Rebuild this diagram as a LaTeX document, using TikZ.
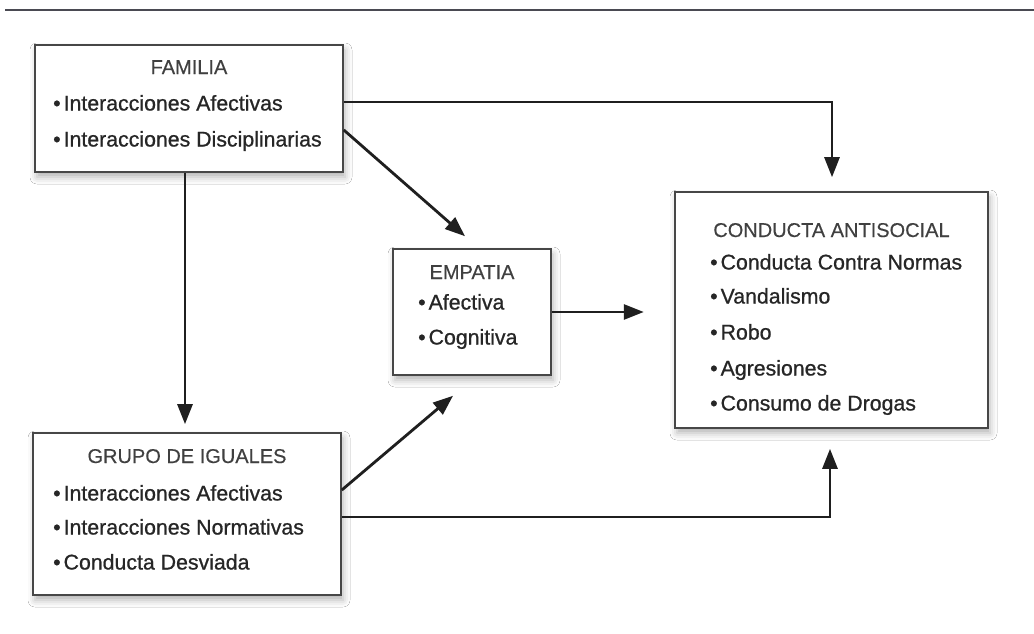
\documentclass[tikz,border=0pt]{standalone}
\usepackage{fontspec}
\setmainfont{Liberation Sans}
\newfontfamily\itmfont{Liberation Sans}[FakeBold=0.8]
\newfontfamily\ttlfont{Liberation Sans}[FakeBold=0.3]
\usetikzlibrary{arrows.meta,calc,shadows.blur}
\definecolor{rule}{HTML}{4A4A52}
\begin{document}
\begin{tikzpicture}[x=1pt,y=-1pt,
  box/.style={draw=black!72, line width=1.6pt, fill=white, inner sep=0pt,
    blur shadow={shadow xshift=2pt, shadow yshift=-5pt, shadow blur radius=7pt, shadow opacity=30}},
  ttl/.style={inner sep=0pt, text height=14pt, text depth=0pt, font=\ttlfont\fontsize{20}{22}\selectfont, text=black!75},
  itm/.style={inner sep=0pt, anchor=west, text height=15pt, text depth=0pt, font=\itmfont\fontsize{21.3}{24}\selectfont, text=black!85},
  arr/.style={draw=black!88, line width=2.8pt, -{Triangle[length=20pt,width=15pt]}}
]
\useasboundingbox (0,0) rectangle (1034,633);
\fill[white] (0,0) rectangle (1034,633);
\draw[line width=2.6pt, draw=rule] (5,10) -- (1034,10);

% boxes
\node[box, minimum width=308pt, minimum height=127pt] (fam) at (189,108.5) {};
\node[box, minimum width=308pt, minimum height=162pt] (grp) at (187,514) {};
\node[box, minimum width=158pt, minimum height=126pt] (emp) at (472,312) {};
\node[box, minimum width=313pt, minimum height=236pt] (anti) at (831.5,310) {};

% FAMILIA
\node[ttl] (famt) at (189,67) {FAMILIA};
\node[itm] (fam1) at (53,103) {•\kern3pt Interacciones Afectivas};
\node[itm] (fam2) at (53,139) {•\kern3pt Interacciones Disciplinarias};

% GRUPO
\node[ttl] (grpt) at (187,456) {GRUPO DE IGUALES};
\node[itm] (grp1) at (53,493) {•\kern3pt Interacciones Afectivas};
\node[itm] (grp2) at (53,527) {•\kern3pt Interacciones Normativas};
\node[itm] (grp3) at (53,562) {•\kern3pt Conducta Desviada};

% EMPATIA
\node[ttl] (empt) at (472,272) {EMPATIA};
\node[itm] (emp1) at (418,302) {•\kern3pt Afectiva};
\node[itm] (emp2) at (418,337) {•\kern3pt Cognitiva};

% CONDUCTA ANTISOCIAL
\node[ttl] (antit) at (831.5,230) {CONDUCTA ANTISOCIAL};
\node[itm] (anti1) at (710,262) {•\kern3pt Conducta Contra Normas};
\node[itm] (anti2) at (710,296) {•\kern3pt Vandalismo};
\node[itm] (anti3) at (710,332) {•\kern3pt Robo};
\node[itm] (anti4) at (710,368) {•\kern3pt Agresiones};
\node[itm] (anti5) at (710,403) {•\kern3pt Consumo de Drogas};

% free ends
\coordinate (t1) at ($(anti.north)+(0.5,-14)$);
\coordinate (t2) at ($(emp.north)+(-7,-12)$);
\coordinate (t3) at ($(grp.north)+(-2,-8)$);
\coordinate (t4) at ($(emp.south)+(-19,20)$);
\coordinate (t5) at ($(anti.south)+(-1.5,20)$);
\coordinate (t6) at ($(emp.east)+(92,0)$);

% connectors
\draw[arr] ($(fam.east)+(0,-6.5)$) -| (t1);
\draw[arr] ($(fam.east)+(0,21.5)$) -- (t2);
\draw[arr] ($(fam.south)+(-4,0)$) -- (t3);
\draw[arr] ($(grp.east)+(0,-24)$) -- (t4);
\draw[arr] ($(grp.east)+(0,3)$) -| (t5);
\draw[arr] (emp.east) -- (t6);
\end{tikzpicture}
\end{document}
